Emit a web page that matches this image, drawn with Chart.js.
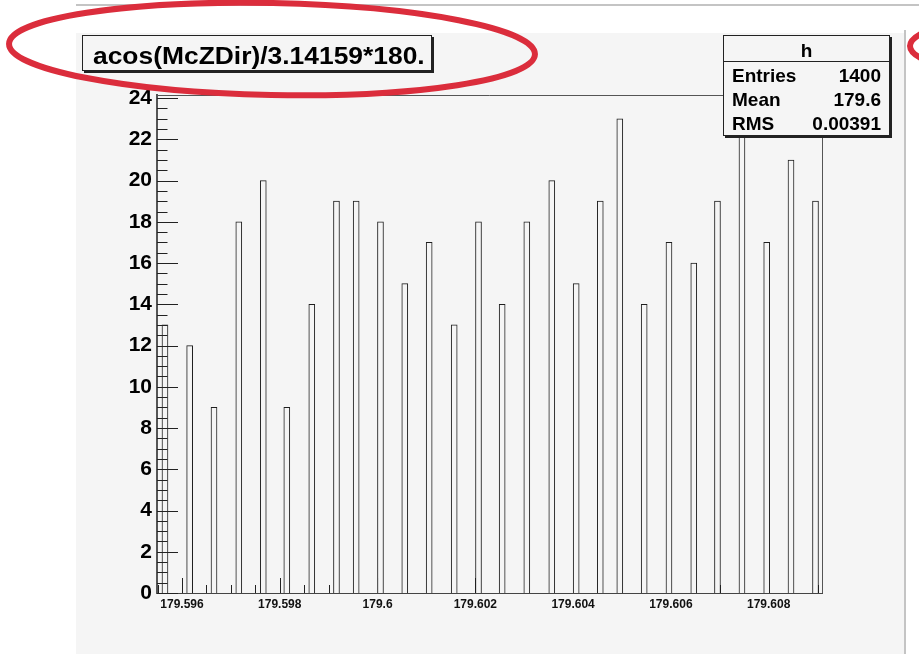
<!DOCTYPE html>
<html>
<head>
<meta charset="utf-8">
<script src="https://cdn.jsdelivr.net/npm/chart.js@4/dist/chart.umd.min.js"></script>
<style>
  html, body { margin: 0; padding: 0; background: #ffffff; }
  #wrap { position: relative; width: 919px; height: 654px; overflow: hidden; }
  #c { position: absolute; left: 0; top: 0; }
  .rootbox {
    position: absolute; box-sizing: border-box;
    border: 1px solid #222; box-shadow: 2px 2px 0 #222;
    background: #f5f5f5; color: #000;
    font-family: "Liberation Sans", Arial, sans-serif; font-weight: bold;
  }
  #title { left: 82px; top: 35px; width: 350px; height: 36px; }
  #title span {
    position: absolute; left: 10px; top: 0; white-space: nowrap;
    font-size: 24px; line-height: 40px;
    transform: scaleX(1.1); transform-origin: left center;
  }
  #stats { left: 723px; top: 35px; width: 167px; height: 101px; font-size: 19px; }
  #stats .hdr { height: 25px; line-height: 29px; text-align: center; border-bottom: 1px solid #222; }
  #stats .rows { padding: 2px 8px 0 8px; }
  #stats .row { display: flex; justify-content: space-between; height: 24px; line-height: 24px; }
</style>
</head>
<body>
<div id="wrap">
  <canvas id="c" width="919" height="654"></canvas>
  <div id="title" class="rootbox"><span>acos(McZDir)/3.14159*180.</span></div>
  <div id="stats" class="rootbox">
    <div class="hdr" id="statsName"></div>
    <div class="rows" id="statsRows"></div>
  </div>
</div>
<script>
// ---- data ----
const histName = "h";
const binCenters = [
  179.595652, 179.596157, 179.596655, 179.597162, 179.597663, 179.598144, 179.598655,
  179.599160, 179.599563, 179.600060, 179.600557, 179.601056, 179.601568, 179.602065,
  179.602549, 179.603053, 179.603564, 179.604063, 179.604556, 179.604955, 179.605454,
  179.605961, 179.606468, 179.606953, 179.607454, 179.607960, 179.608457, 179.608958
];
const binCounts = [
  13, 12, 9, 18, 20, 9, 14,
  19, 19, 18, 15, 17, 13, 18,
  14, 18, 20, 15, 19, 23, 14,
  17, 16, 19, 23, 17, 21, 19
];
const xTickValues = [179.596, 179.598, 179.600, 179.602, 179.604, 179.606, 179.608];
const xTickLabels = ["179.596", "179.598", "179.6", "179.602", "179.604", "179.606", "179.608"];
const yTickValues = [0, 2, 4, 6, 8, 10, 12, 14, 16, 18, 20, 22, 24];
const yTickLabels = ["0", "2", "4", "6", "8", "10", "12", "14", "16", "18", "20", "22", "24"];
const statLabels = ["Entries", "Mean", "RMS"];
const statValues = ["1400", "179.6", "0.00391"];
const xRange = [179.595489, 179.609091];
const yRange = [0, 24.15];

// stats box text
document.getElementById('statsName').textContent = histName;
document.getElementById('statsRows').innerHTML = statLabels.map((l, i) =>
  '<div class="row"><span>' + l + '</span><span>' + statValues[i] + '</span></div>').join('');

const PAD_BG = '#f5f5f5';

const backdrop = {
  id: 'backdrop',
  beforeDraw(chart) {
    const ctx = chart.ctx;
    ctx.save();
    ctx.fillStyle = '#ffffff';
    ctx.fillRect(0, 0, chart.width, chart.height);
    ctx.fillStyle = PAD_BG;
    ctx.fillRect(76, 33, 828, 654 - 33);
    ctx.strokeStyle = '#c4c4c4';
    ctx.lineWidth = 2;
    ctx.beginPath(); ctx.moveTo(76, 5); ctx.lineTo(919, 5); ctx.stroke();
    ctx.beginPath(); ctx.moveTo(905, 30); ctx.lineTo(905, 654); ctx.stroke();
    ctx.restore();
  }
};

const axisTicks = {
  id: 'axisTicks',
  beforeDatasetsDraw(chart) {
    // x ticks (upward), drawn under the bars
    const ctx = chart.ctx, a = chart.chartArea, xs = chart.scales.x;
    ctx.save();
    ctx.strokeStyle = '#222';
    ctx.lineWidth = 1;
    const xStep = xTickValues[1] - xTickValues[0];
    const first = xTickValues[0] - xStep;
    for (let i = 0; i <= xTickValues.length; i++) {
      const base = first + i * xStep;
      for (let k = 0; k < 4; k++) {
        const v = base + k * xStep / 4;
        if (v < xs.min || v > xs.max) continue;
        const p = Math.round(xs.getPixelForValue(v)) + 0.5;
        const len = k === 0 ? 15 : 8;
        ctx.beginPath(); ctx.moveTo(p, a.bottom); ctx.lineTo(p, a.bottom - len); ctx.stroke();
      }
    }
    ctx.restore();
  },
  afterDatasetsDraw(chart) {
    const ctx = chart.ctx, a = chart.chartArea, ys = chart.scales.y;
    ctx.save();
    // frame top & right
    ctx.strokeStyle = '#555';
    ctx.lineWidth = 1;
    ctx.beginPath();
    ctx.moveTo(a.left, a.top + 0.5); ctx.lineTo(a.right + 0.5, a.top + 0.5); ctx.lineTo(a.right + 0.5, a.bottom);
    ctx.stroke();
    ctx.strokeStyle = '#222';
    // y ticks (into the frame)
    const yStep = yTickValues[1] - yTickValues[0];
    for (let i = 0; i < yTickValues.length; i++) {
      const v = yTickValues[i];
      let p = Math.round(ys.getPixelForValue(v)) + 0.5;
      ctx.beginPath(); ctx.moveTo(a.left, p); ctx.lineTo(a.left + 21, p); ctx.stroke();
      for (let k = 1; k < 4; k++) {
        const mv = v + k * yStep / 4;
        if (mv > ys.max) break;
        p = Math.round(ys.getPixelForValue(mv)) + 0.5;
        ctx.beginPath(); ctx.moveTo(a.left, p); ctx.lineTo(a.left + 10.5, p); ctx.stroke();
      }
    }
    ctx.restore();
  },
  afterDraw(chart) {
    const ctx = chart.ctx;
    ctx.save();
    ctx.strokeStyle = '#db2d3c';
    ctx.lineWidth = 6;
    ctx.beginPath();
    ctx.ellipse(272, 49, 263, 46, 0.02, 0, Math.PI * 2);
    ctx.stroke();
    ctx.beginPath();
    ctx.ellipse(1190, 46, 280, 44, 0, 0, Math.PI * 2);
    ctx.stroke();
    ctx.restore();
  }
};

new Chart(document.getElementById('c'), {
  type: 'bar',
  data: {
    datasets: [{
      label: histName,
      data: binCenters.map((x, i) => ({ x: x, y: binCounts[i] })),
      backgroundColor: PAD_BG,
      borderColor: '#1e1e1e',
      borderWidth: 1,
      barThickness: 6
    }]
  },
  options: {
    responsive: false,
    animation: false,
    devicePixelRatio: 1,
    layout: { padding: { left: 77, top: 95, right: 97, bottom: 31 } },
    plugins: { legend: { display: false }, tooltip: { enabled: false }, title: { display: false } },
    scales: {
      x: {
        type: 'linear',
        min: xRange[0], max: xRange[1],
        offset: false,
        grid: { display: false, offset: false, drawTicks: false },
        border: { display: true, color: '#444', width: 1 },
        afterBuildTicks: s => { s.ticks = xTickValues.map(v => ({ value: v })); },
        afterFit: s => { s.height = 30; },
        ticks: {
          autoSkip: false, maxRotation: 0, minRotation: 0, padding: 4,
          color: '#111',
          font: { family: 'Liberation Sans', weight: 'bold', size: 12 },
          callback: (v, i) => xTickLabels[i]
        }
      },
      y: {
        type: 'linear',
        min: yRange[0], max: yRange[1],
        grid: { display: false, drawTicks: false },
        border: { display: true, color: '#555', width: 2 },
        afterBuildTicks: s => { s.ticks = yTickValues.map(v => ({ value: v })); },
        afterFit: s => { s.width = 80; },
        ticks: {
          padding: 5,
          color: '#000',
          font: { family: 'Liberation Sans', weight: 'bold', size: 21 },
          callback: (v, i) => yTickLabels[i]
        }
      }
    }
  },
  plugins: [backdrop, axisTicks]
});
</script>
</body>
</html>
